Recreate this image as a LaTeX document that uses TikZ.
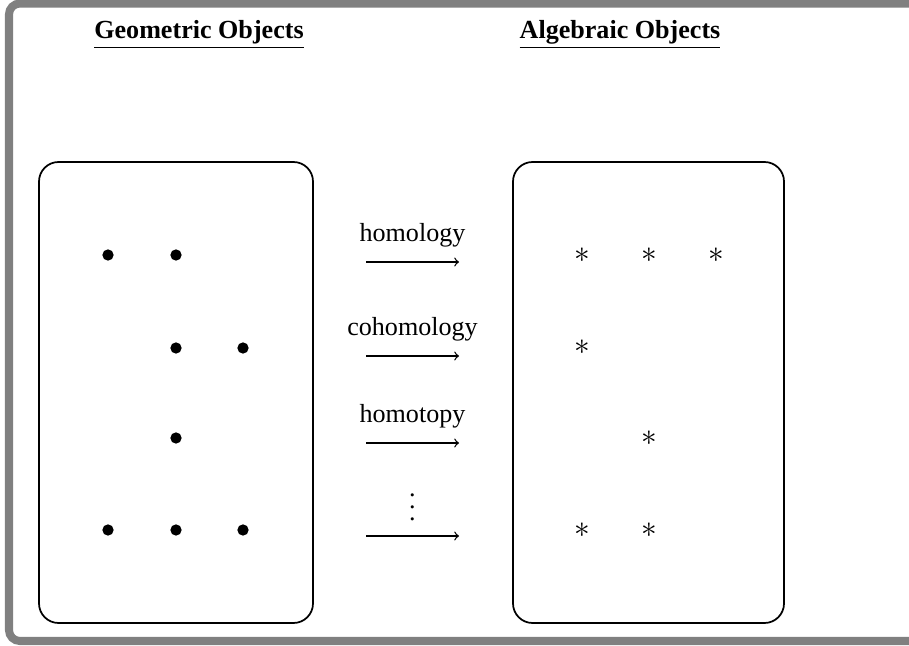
\documentclass[tikz,border=0pt]{standalone}
\usepackage{fontspec}
\setmainfont{Liberation Serif}
\newcommand{\tallvdots}{\vbox{\baselineskip5.5pt \lineskiplimit0pt
    \kern4pt\hbox{.}\hbox{.}\hbox{.}}}
\begin{document}
\begin{tikzpicture}[
    x=0.46pt, y=-0.46pt,
    font=\fontsize{12pt}{14pt}\selectfont,
    frame/.style={line width=3.7pt, draw=gray, rounded corners=5pt},
    panel/.style={draw, thick, rounded corners=9pt},
    head/.style={anchor=base, font=\fontsize{12pt}{14pt}\selectfont\bfseries},
    gdot/.style={circle, fill, inner sep=0pt, minimum size=5.2pt},
    adot/.style={inner sep=0pt, font=\fontsize{14pt}{16pt}\selectfont},
    arr/.style={-to, semithick},
    lab/.style={anchor=base, yshift=9.2pt}
]
    \useasboundingbox (0,0) rectangle (909,646);
    \clip (0,0) rectangle (909,646);

    % Outer frame, open on the right
    \draw[frame] (930,3.5) -- (9,3.5) -- (9,641) -- (930,641);

    % Headings
    \node[head] (geo) at (199,39) {\underline{Geometric Objects}};
    \node[head] (alg) at (620,39) {\underline{Algebraic Objects}};

    % Panels
    \draw[panel] (39,162) rectangle (313,623);
    \draw[panel] (513,162) rectangle (784,623);

    % Geometric side
    \node[gdot] (g11) at (108,255) {};
    \node[gdot] (g12) at (176,255) {};
    \node[gdot] (g22) at (176,348) {};
    \node[gdot] (g23) at (243,348) {};
    \node[gdot] (g32) at (176,438) {};
    \node[gdot] (g41) at (108,530) {};
    \node[gdot] (g42) at (176,530) {};
    \node[gdot] (g43) at (243,530) {};

    % Algebraic side
    \node[adot] (a11) at (582,255) {$*$};
    \node[adot] (a12) at (649,255) {$*$};
    \node[adot] (a13) at (716,255) {$*$};
    \node[adot] (a21) at (582,347) {$*$};
    \node[adot] (a32) at (649,438) {$*$};
    \node[adot] (a41) at (582,530) {$*$};
    \node[adot] (a42) at (649,530) {$*$};

    % Functors
    \coordinate (s1) at (366,262);
    \coordinate (e1) at (459,262);
    \coordinate (s2) at (366,356);
    \coordinate (e2) at (459,356);
    \coordinate (s3) at (366,443);
    \coordinate (e3) at (459,443);
    \coordinate (s4) at (366,536);
    \coordinate (e4) at (459,536);
    \draw[arr] (s1) -- node[lab] {homology} (e1);
    \draw[arr] (s2) -- node[lab] {cohomology} (e2);
    \draw[arr] (s3) -- node[lab] {homotopy} (e3);
    \draw[arr] (s4) -- node[lab, yshift=-2pt] {\tallvdots} (e4);
\end{tikzpicture}
\end{document}
